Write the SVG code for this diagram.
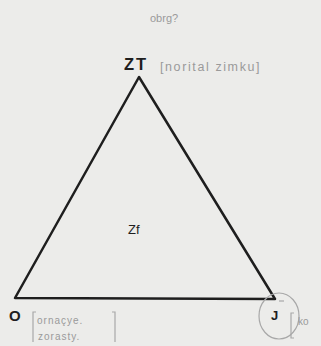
<svg xmlns="http://www.w3.org/2000/svg" width="321" height="346" viewBox="0 0 321 346">
<style>
.ink{font-family:"Liberation Sans",Arial,sans-serif;fill:#1e1e1e}
.pencil{font-family:"Liberation Sans",Arial,sans-serif;fill:#9a9a9a}
.edge{stroke:#1e1e1e;stroke-width:2.5;fill:none;stroke-linejoin:round}
.faint{stroke:#a8a8a8;stroke-width:1.2;fill:none}
</style>
<rect width="321" height="346" fill="#ececea"/>
<text class="pencil" x="150" y="22" font-size="11">obrg?</text>
<g id="connectors">
<path class="edge" d="M139,77 L15,298 L275,299 Z"/>
</g>
<g id="node-ZT">
<text class="ink" x="124" y="70" font-size="16.5" font-weight="bold" letter-spacing="2">ZT</text>
<text class="pencil" x="160" y="71" font-size="12.5" letter-spacing="1.6">[norital zimku]</text>
</g>
<g id="node-Zf">
<text class="ink" x="128" y="234" font-size="13">Zf</text>
</g>
<g id="node-O">
<text class="ink" x="9" y="321" font-size="15" font-weight="bold">O</text>
<path class="faint" d="M36,312 L33,312 L33,342 M112,312 L115,312 L115,342"/>
<text class="pencil" x="37" y="324" font-size="10" letter-spacing="1">ornaçye.</text>
<text class="pencil" x="38" y="340" font-size="10" letter-spacing="1">zorasty.</text>
</g>
<g id="node-J">
<ellipse class="faint" cx="279" cy="316" rx="20" ry="23"/>
<text class="ink" x="271" y="320" font-size="13" font-weight="bold">J</text>
<path class="faint" d="M279,301 L284,301"/>
<path class="faint" d="M294,313 L291,313 L291,338 L294,338"/>
<text class="pencil" x="298" y="325" font-size="10">ko</text>
</g>
</svg>
